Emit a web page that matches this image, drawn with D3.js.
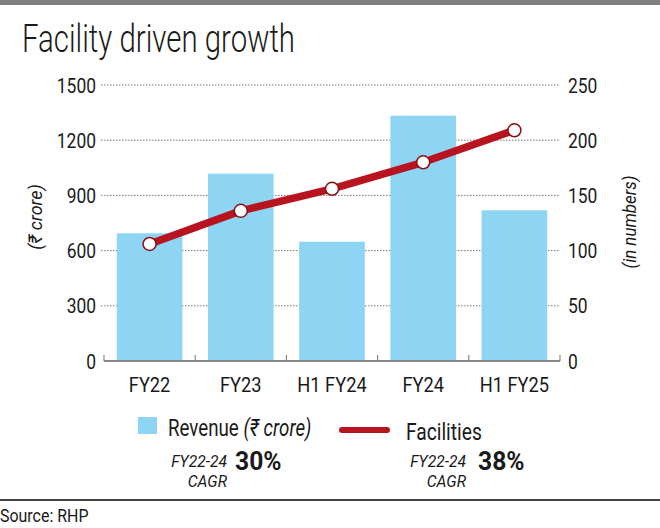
<!DOCTYPE html>
<html><head><meta charset="utf-8">
<script src="https://cdn.jsdelivr.net/npm/d3@7"></script>
<style>
html,body{margin:0;padding:0;background:#fff;}
svg{display:block;}
text{font-family:"Roboto",sans-serif;fill:#1a1a1a;}
</style></head>
<body>
<script>
const categories = ["FY22", "FY23", "H1 FY24", "FY24", "H1 FY25"];
const revenue = [694, 1018, 648, 1333, 819];
const facilities = [106, 136, 156, 180, 209];
const leftTicks = [0, 300, 600, 900, 1200, 1500];
const rightTicks = [0, 50, 100, 150, 200, 250];

const W = 660, H = 528;
const m = {left: 104, right: 560, top: 85, bottom: 361};
const svg = d3.select("body").append("svg").attr("width", W).attr("height", H);

// condensed text helper
function T(parent, x, y, str, o = {}) {
  const g = parent.append("g")
    .attr("transform", `translate(${x},${y})` + (o.rot ? ` rotate(${o.rot})` : "") + ` scale(${o.sx || 0.85},1)`);
  const t = g.append("text").attr("text-anchor", o.anchor || "start")
    .style("font-size", (o.size || 20) + "px");
  if (o.italic) t.style("font-style", "italic");
  if (o.weight) t.style("font-weight", o.weight);
  if (str !== null) t.text(str);
  return t;
}

svg.append("rect").attr("x",0).attr("y",0).attr("width",W).attr("height",5).attr("fill","#7f7f7f");

svg.append("text").attr("x",22).attr("y",52)
  .style("font-family","Roboto, sans-serif").style("font-weight",300).style("font-size","38px")
  .attr("textLength",273).attr("lengthAdjust","spacingAndGlyphs")
  .attr("fill","#222").text("Facility driven growth");

const x = d3.scaleBand().domain(categories).range([m.left, m.right]).paddingInner(0.28).paddingOuter(0.14);
const y = d3.scaleLinear().domain([0,1500]).range([m.bottom, m.top]);
const y2 = d3.scaleLinear().domain([0,250]).range([m.bottom, m.top]);

// gridlines
svg.append("g").selectAll("line").data(leftTicks.filter(d=>d>0)).join("line")
  .attr("x1", m.left-3).attr("x2", m.right).attr("y1", d=>y(d)).attr("y2", d=>y(d))
  .attr("stroke","#777").attr("stroke-width",1).attr("stroke-dasharray","1.5,1.5");

// bars
svg.append("g").selectAll("rect").data(categories).join("rect")
  .attr("x", d=>x(d)).attr("width", x.bandwidth())
  .attr("y", (d,i)=>y(revenue[i])).attr("height", (d,i)=>m.bottom - y(revenue[i]))
  .attr("fill","#8ed4f3");

// baseline and ticks
svg.append("line").attr("x1",m.left).attr("x2",m.right).attr("y1",m.bottom).attr("y2",m.bottom)
  .attr("stroke","#888").attr("stroke-width",2);
const tickXs = d3.range(categories.length+1).map(i => m.left + i*(m.right-m.left)/categories.length);
svg.append("g").selectAll("line").data(tickXs).join("line")
  .attr("x1",d=>d).attr("x2",d=>d).attr("y1",m.bottom-6).attr("y2",m.bottom)
  .attr("stroke","#888").attr("stroke-width",1.2);

// axis labels
const axL = svg.append("g");
leftTicks.forEach(d => T(axL, 96, y(d)+7.5, String(d), {size:21, anchor:"end", sx:0.83}));
const axR = svg.append("g");
rightTicks.forEach(d => T(axR, 568, y2(d)+7.5, String(d), {size:21, sx:0.83}));

// axis titles
T(svg, 42, 217, "(₹ crore)", {size:19, italic:true, anchor:"middle", rot:-90, sx:0.95});
T(svg, 636, 222, "(in numbers)", {size:19, italic:true, anchor:"middle", rot:-90, sx:0.89});

// x labels
const xl = svg.append("g");
categories.forEach(d => T(xl, x(d)+x.bandwidth()/2, 392, d, {size:21, anchor:"middle", sx:0.87}));

// line
const cx = d => x(d)+x.bandwidth()/2;
const line = d3.line().x((d,i)=>cx(categories[i])).y(d=>y2(d));
svg.append("path").datum(facilities).attr("d",line).attr("fill","none")
  .attr("stroke","#b8141f").attr("stroke-width",7.5).attr("stroke-linejoin","round");
svg.append("g").selectAll("circle").data(facilities).join("circle")
  .attr("cx",(d,i)=>cx(categories[i])).attr("cy",d=>y2(d)).attr("r",6.5)
  .attr("fill","#fff").attr("stroke","#8a1018").attr("stroke-width",1.5);

// legend
svg.append("rect").attr("x",138).attr("y",417).attr("width",19).attr("height",17).attr("fill","#8ed4f3");
const lt = T(svg, 168, 436, null, {size:24, sx:0.78});
lt.append("tspan").text("Revenue ");
lt.append("tspan").style("font-style","italic").text("(₹ crore)");
svg.append("line").attr("x1",342).attr("x2",387).attr("y1",430).attr("y2",430)
  .attr("stroke","#b8141f").attr("stroke-width",6).attr("stroke-linecap","round");
T(svg, 406, 440, "Facilities", {size:24, sx:0.8});

function cagr(xr, val, xv){
  T(svg, xr, 467, "FY22-24", {size:17, italic:true, anchor:"end", sx:0.92});
  T(svg, xr, 487, "CAGR", {size:17, italic:true, anchor:"end", sx:0.92});
  T(svg, xv, 470, val, {size:26, weight:"bold", sx:0.95});
}
cagr(227, "30%", 235);
cagr(466, "38%", 478);

svg.append("line").attr("x1",0).attr("x2",W).attr("y1",500).attr("y2",500).attr("stroke","#444").attr("stroke-width",2);
T(svg, 0, 522, "Source: RHP", {size:19, sx:0.84});
</script>
</body></html>
